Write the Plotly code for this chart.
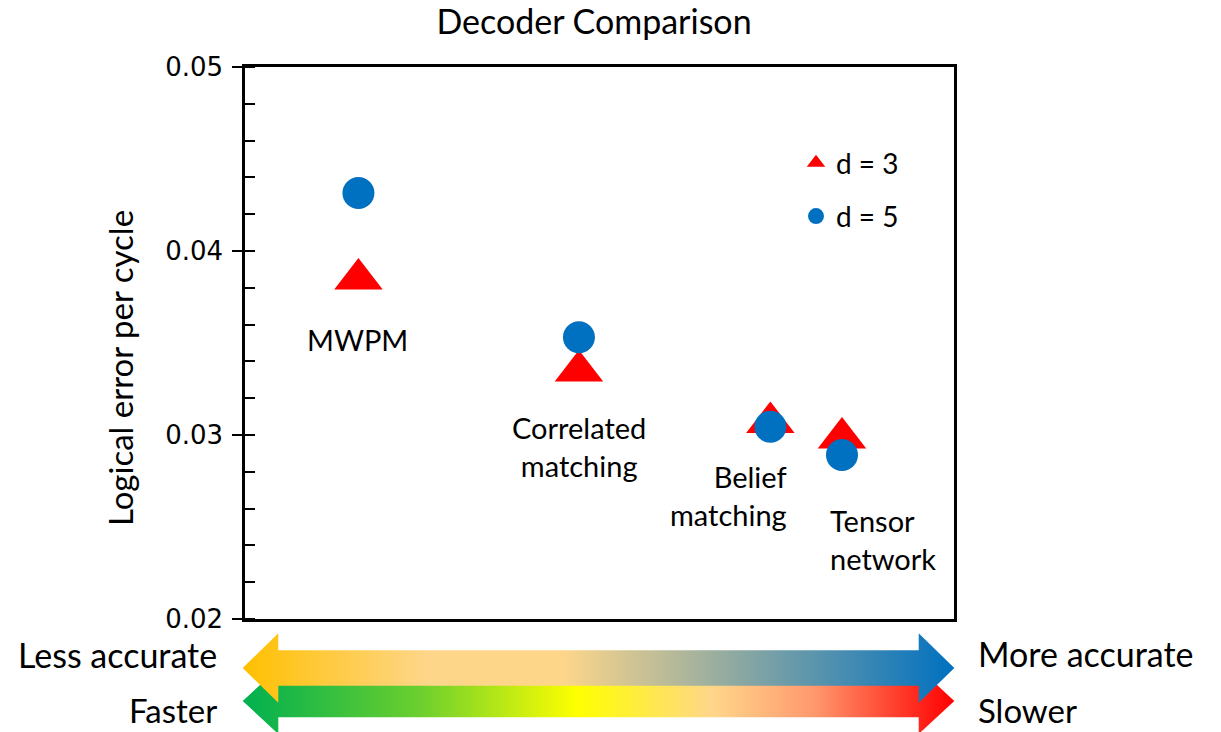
import plotly.graph_objects as go

# Decoders, ordered from fastest to slowest
decoders = ["MWPM", "Correlated<br>matching", "Belief<br>matching", "Tensor<br>network"]
speed_pos = [1.6, 4.71, 7.41, 8.42]          # horizontal placement on the speed/accuracy scale
err_d3 = [0.03848, 0.03348, 0.03068, 0.02984]  # logical error per cycle, distance 3
err_d5 = [0.04315, 0.03531, 0.03045, 0.02891]  # logical error per cycle, distance 5

W, H = 1221, 732
L_PX, R_PX, T_PX, B_PX = 245, 954, 67, 619

RED = "#FF0000"
BLUE = "#0070C0"
LABEL_FONT = "Lato"

fig = go.Figure()

fig.add_trace(go.Scatter(
    x=speed_pos, y=err_d3, mode="markers", name="d = 3", legendgroup="d3",
    marker=dict(symbol="triangle-up", size=42, color=RED, line=dict(width=0)),
    xaxis="x", yaxis="y", cliponaxis=False,
))
fig.add_trace(go.Scatter(
    x=speed_pos, y=err_d5, mode="markers", name="d = 5", legendgroup="d5",
    marker=dict(symbol="circle", size=32, color=BLUE, line=dict(width=0)),
    xaxis="x", yaxis="y", cliponaxis=False,
))


def double_arrow(x0, x1, yc, shaft, head, head_len):
    xs = [x0, x0 + head_len, x0 + head_len, x1 - head_len, x1 - head_len, x1,
          x1 - head_len, x1 - head_len, x0 + head_len, x0 + head_len, x0]
    ys = [yc, yc - head, yc - shaft, yc - shaft, yc - head, yc,
          yc + head, yc + shaft, yc + shaft, yc + head, yc]
    return xs, ys


# Speed arrow (drawn first, sits underneath)
sx, sy = double_arrow(242.7, 954.3, 701, 16.3, 33, 35.6)
fig.add_trace(go.Scatter(
    x=sx, y=sy, mode="lines", fill="toself", line=dict(width=0),
    fillgradient=dict(type="horizontal", colorscale=[
        [0.0, "#00B050"], [0.25, "#6CCF2E"], [0.47, "#FFFF00"],
        [0.66, "#FFD68A"], [0.8, "#FF9A6E"], [1.0, "#FF0000"]]),
    xaxis="x2", yaxis="y2", showlegend=False, hoverinfo="skip",
))
# Accuracy arrow
ax_, ay_ = double_arrow(242.7, 954.3, 668, 17.8, 34.7, 35.6)
fig.add_trace(go.Scatter(
    x=ax_, y=ay_, mode="lines", fill="toself", line=dict(width=0),
    fillgradient=dict(type="horizontal", colorscale=[
        [0.0, "#FFC000"], [0.26, "#FED68A"], [0.45, "#FDD68A"],
        [1.0, "#0070C0"]]),
    xaxis="x2", yaxis="y2", showlegend=False, hoverinfo="skip",
))

annotations = []

# Decoder name labels beneath each pair of markers
label_cfg = [
    dict(xanchor="center", xshift=-1, yshift=-61, align="center"),
    dict(xanchor="center", xshift=0, yshift=-76, align="center"),
    dict(xanchor="right", xshift=19, yshift=-69, align="right"),
    dict(xanchor="left", xshift=-14, yshift=-84, align="left"),
]
for name, xp, a, b, cfg in zip(decoders, speed_pos, err_d3, err_d5, label_cfg):
    annotations.append(dict(
        text=name, x=xp, y=min(a, b), xref="x", yref="y", showarrow=False,
        yanchor="middle", font=dict(family=LABEL_FONT, size=29, color="black"), **cfg,
    ))

annotations.append(dict(
    text="Logical error per cycle", x=120 / W, y=1 - 368 / H, xref="paper", yref="paper",
    textangle=-90, showarrow=False, xanchor="center", yanchor="middle",
    font=dict(family=LABEL_FONT, size=33, color="black"),
))

for txt, xpx, ypx, anchor, fsize in [
    ("Less accurate", 218, 654, "right", 34), ("More accurate", 977, 653, "left", 34),
    ("Faster", 218, 710, "right", 33), ("Slower", 977, 710, "left", 33),
]:
    annotations.append(dict(
        text=txt, x=xpx / W, y=1 - ypx / H, xref="paper", yref="paper", showarrow=False,
        xanchor=anchor, yanchor="middle", borderpad=0,
        font=dict(family=LABEL_FONT, size=fsize, color="black"),
    ))

x_dom = [L_PX / W, R_PX / W]
y_dom = [1 - B_PX / H, 1 - T_PX / H]

fig.update_layout(
    width=W, height=H,
    margin=dict(l=0, r=0, t=0, b=0, autoexpand=False),
    paper_bgcolor="white", plot_bgcolor="rgba(0,0,0,0)",
    title=dict(text="Decoder Comparison", x=594 / W, xanchor="center", y=1 - 22 / H,
               yanchor="middle", xref="paper", yref="paper",
               font=dict(family=LABEL_FONT, size=34, color="black")),
    xaxis=dict(domain=x_dom, range=[0, 10], showgrid=False, zeroline=False,
               showticklabels=False, ticks="", showline=True, mirror=True,
               linecolor="black", linewidth=2.5, fixedrange=True, automargin=False),
    yaxis=dict(domain=y_dom, range=[0.02, 0.05], dtick=0.01, tickformat=".2f",
               showgrid=False, zeroline=False, showline=True, mirror=True,
               linecolor="black", linewidth=2.5, ticks="outside", ticklen=10,
               tickwidth=2, tickcolor="black", ticklabelstandoff=4,
               minor=dict(dtick=0.002, ticks="inside", ticklen=10, tickwidth=2,
                          tickcolor="black", showgrid=False),
               tickfont=dict(family="DejaVu Sans", size=26, color="black"),
               fixedrange=True, automargin=False),
    # inner half of the major ticks
    yaxis3=dict(overlaying="y", side="left", range=[0.02, 0.05], dtick=0.01,
                ticks="inside", ticklen=10, tickwidth=2, tickcolor="black",
                showticklabels=False, showgrid=False, zeroline=False, showline=False,
                fixedrange=True, anchor="x", automargin=False),
    xaxis2=dict(domain=[0, 1], range=[0, W], visible=False, fixedrange=True, anchor="y2",
                automargin=False),
    yaxis2=dict(domain=[0, 1], range=[H, 0], visible=False, fixedrange=True, anchor="x2",
                automargin=False),
    legend=dict(x=(817 - 21) / W, y=1 - 138 / H, xanchor="left", yanchor="top",
                bgcolor="rgba(0,0,0,0)", tracegroupgap=14, traceorder="grouped",
                font=dict(family=LABEL_FONT, size=28, color="black"),
                itemsizing="trace"),
    annotations=annotations,
    showlegend=True,
)

# Anchor an empty trace to the inner-tick axis so it is rendered
fig.add_trace(go.Scatter(x=[None], y=[None], xaxis="x", yaxis="y3",
                         showlegend=False, hoverinfo="skip"))

fig.write_html("out.html")
